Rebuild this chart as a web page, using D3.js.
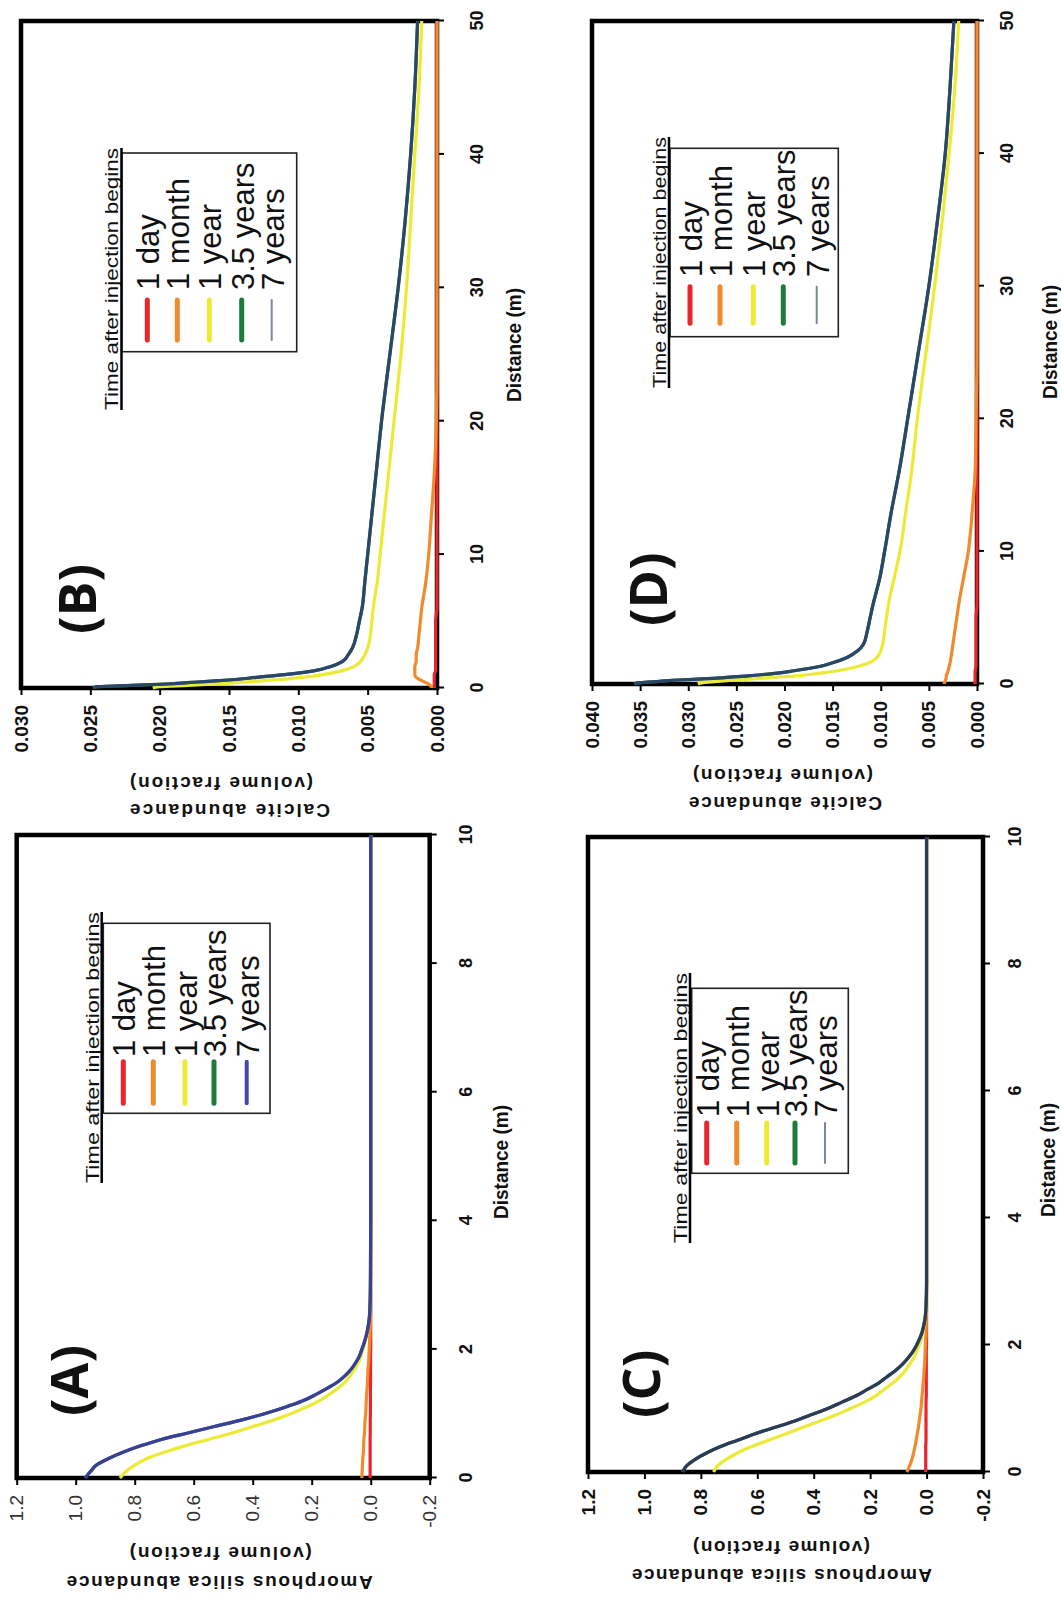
<!DOCTYPE html>
<html lang="en">
<head>
<meta charset="UTF-8">
<title>Amorphous silica and calcite abundance</title>
<style>
  body { margin: 0; background: #fff; }
  svg { display: block; }
  text { font-family: "Liberation Sans", Arial, sans-serif; fill: #111; }
  .frame { fill: none; stroke: #000; stroke-width: 4.5px; }
  .tick line { stroke: #000; stroke-width: 2px; }
  .series { fill: none; stroke-width: 3.2px; stroke-linejoin: round; }
</style>
</head>
<body>
<script src="https://d3js.org/d3.v7.min.js"></script>
<script>
// legend, same in every panel
const legendTitle = "Time after injection begins";
const legendLabels = ["1 day", "1 month", "1 year", "3.5 years", "7 years"];

// (A) amorphous silica, distance 0-10 m
const distA = [0, 0.1, 0.2, 0.3, 0.4, 0.5, 0.6, 0.7, 0.8, 0.9, 1.0, 1.1, 1.2, 1.3, 1.4, 1.5, 1.6, 1.7, 1.8, 1.9, 2.0, 2.2, 2.4, 2.6, 3.0, 4, 5, 6, 7, 8, 9, 10];
const aDay = [0.002, 0.002, 0.002, 0.002, 0.002, 0.002, 0.002, 0.0015, 0.0015, 0.0015, 0.001, 0.001, 0.001, 0.001, 0.001, 0.0005, 0.0005, 0.0005, 0.0005, 0.0005, 0, 0, 0, 0, 0, 0, 0, 0, 0, 0, 0, 0];
const aMonth = [0.030, 0.029, 0.028, 0.027, 0.025, 0.024, 0.023, 0.021, 0.020, 0.019, 0.017, 0.016, 0.015, 0.014, 0.012, 0.011, 0.010, 0.009, 0.007, 0.006, 0.005, 0.003, 0.001, 0, 0, 0, 0, 0, 0, 0, 0, 0];
const aYear = [0.85, 0.83, 0.80, 0.76, 0.70, 0.63, 0.55, 0.47, 0.40, 0.33, 0.27, 0.22, 0.175, 0.14, 0.11, 0.085, 0.068, 0.053, 0.042, 0.033, 0.026, 0.015, 0.007, 0.003, 0.001, 0, 0, 0, 0, 0, 0, 0];
const aYear35 = [0.968, 0.95, 0.93, 0.89, 0.84, 0.78, 0.71, 0.62, 0.53, 0.44, 0.36, 0.29, 0.23, 0.185, 0.145, 0.11, 0.085, 0.065, 0.05, 0.038, 0.03, 0.016, 0.007, 0.003, 0.001, 0, 0, 0, 0, 0, 0, 0];
const aYear7 = [0.968, 0.95, 0.93, 0.89, 0.84, 0.78, 0.71, 0.62, 0.53, 0.44, 0.36, 0.29, 0.23, 0.185, 0.145, 0.11, 0.085, 0.065, 0.05, 0.038, 0.03, 0.016, 0.007, 0.003, 0.001, 0, 0, 0, 0, 0, 0, 0];

// (C) amorphous silica, second case, distance 0-10 m
const distC = [0, 0.1, 0.2, 0.3, 0.4, 0.5, 0.6, 0.7, 0.8, 0.9, 1.0, 1.1, 1.2, 1.3, 1.4, 1.5, 1.6, 1.7, 1.8, 1.9, 2.0, 2.2, 2.4, 2.6, 3.0, 4, 5, 6, 7, 8, 9, 10];
const cDay = [0.003, 0.003, 0.003, 0.003, 0.003, 0.002, 0.002, 0.002, 0.002, 0.002, 0.002, 0.002, 0.001, 0.001, 0.001, 0.001, 0.001, 0.001, 0.001, 0.001, 0, 0, 0, 0, 0, 0, 0, 0, 0, 0, 0, 0];
const cMonth = [0.07, 0.06, 0.052, 0.046, 0.041, 0.037, 0.033, 0.029, 0.026, 0.023, 0.020, 0.018, 0.016, 0.014, 0.012, 0.010, 0.009, 0.007, 0.006, 0.005, 0.004, 0.002, 0.001, 0, 0, 0, 0, 0, 0, 0, 0, 0];
const cYear = [0.755, 0.74, 0.71, 0.67, 0.62, 0.56, 0.50, 0.44, 0.38, 0.32, 0.27, 0.22, 0.18, 0.15, 0.12, 0.095, 0.075, 0.06, 0.045, 0.035, 0.026, 0.013, 0.005, 0.001, 0, 0, 0, 0, 0, 0, 0, 0];
const cYear35 = [0.865, 0.85, 0.82, 0.78, 0.73, 0.67, 0.61, 0.54, 0.47, 0.41, 0.35, 0.30, 0.25, 0.21, 0.17, 0.14, 0.11, 0.085, 0.065, 0.048, 0.035, 0.016, 0.006, 0.002, 0, 0, 0, 0, 0, 0, 0, 0];
const cYear7 = [0.865, 0.85, 0.82, 0.78, 0.73, 0.67, 0.61, 0.54, 0.47, 0.41, 0.35, 0.30, 0.25, 0.21, 0.17, 0.14, 0.11, 0.085, 0.065, 0.048, 0.035, 0.016, 0.006, 0.002, 0, 0, 0, 0, 0, 0, 0, 0];

// (B) calcite, distance 0-50 m
const distB = [0, 0.1, 0.2, 0.3, 0.4, 0.5, 0.6, 0.8, 1.0, 1.3, 1.6, 2, 2.5, 3, 4, 5, 6, 8, 10, 13, 16, 20, 25, 30, 35, 40, 45, 50];
const bDay = [0.0002, 0.0002, 0.0002, 0.0002, 0.0002, 0.0002, 0.0002, 0.0002, 0.0002, 0.0001, 0.0001, 0.0001, 0.0001, 0.0001, 0.0001, 0.0001, 0, 0, 0, 0, 0, 0, 0, 0, 0, 0, 0, 0];
const bMonth = [0.0004, 0.0004, 0.0005, 0.0006, 0.0008, 0.0010, 0.0012, 0.0015, 0.0016, 0.0016, 0.0016, 0.0015, 0.0015, 0.0014, 0.0013, 0.0012, 0.0011, 0.0008, 0.0006, 0.0004, 0.0002, 0.00005, 0, 0, 0, 0, 0, 0];
const bYear = [0.0205, 0.0200, 0.0180, 0.0160, 0.0145, 0.0130, 0.0118, 0.0097, 0.0082, 0.0068, 0.0060, 0.0055, 0.0052, 0.0050, 0.0048, 0.0047, 0.0046, 0.0043, 0.0041, 0.0038, 0.0035, 0.0031, 0.0026, 0.0022, 0.0019, 0.0016, 0.0013, 0.0011];
const bYear35 = [0.0248, 0.0245, 0.0220, 0.0195, 0.0180, 0.0165, 0.0150, 0.0130, 0.0110, 0.0088, 0.0077, 0.0068, 0.0064, 0.0061, 0.0058, 0.0056, 0.0054, 0.0052, 0.0050, 0.0047, 0.0044, 0.0040, 0.0034, 0.0028, 0.0023, 0.0019, 0.0016, 0.0014];
const bYear7 = [0.0248, 0.0245, 0.0220, 0.0195, 0.0180, 0.0165, 0.0150, 0.0130, 0.0110, 0.0088, 0.0077, 0.0068, 0.0064, 0.0061, 0.0058, 0.0056, 0.0054, 0.0052, 0.0050, 0.0047, 0.0044, 0.0040, 0.0034, 0.0028, 0.0023, 0.0019, 0.0016, 0.0014];

// (D) calcite, second case, distance 0-50 m
const distD = [0, 0.1, 0.2, 0.3, 0.4, 0.5, 0.6, 0.8, 1.0, 1.3, 1.6, 2, 2.5, 3, 4, 5, 6, 8, 10, 13, 16, 20, 25, 30, 35, 40, 45, 50];
const dDay = [0.0002, 0.0002, 0.0002, 0.0002, 0.0002, 0.0002, 0.0002, 0.0002, 0.0002, 0.0001, 0.0001, 0.0001, 0.0001, 0.0001, 0.0001, 0.0001, 0, 0, 0, 0, 0, 0, 0, 0, 0, 0, 0, 0];
const dMonth = [0.0034, 0.0034, 0.0033, 0.0033, 0.0032, 0.0032, 0.0032, 0.0031, 0.0030, 0.0029, 0.0028, 0.0027, 0.0026, 0.0025, 0.0023, 0.0021, 0.0019, 0.0014, 0.0009, 0.0005, 0.0002, 0.0001, 0, 0, 0, 0, 0, 0];
const dYear = [0.0290, 0.0285, 0.0270, 0.0250, 0.0230, 0.0210, 0.0190, 0.0165, 0.0145, 0.0125, 0.0112, 0.0104, 0.0100, 0.0098, 0.0096, 0.0094, 0.0092, 0.0086, 0.0080, 0.0074, 0.0068, 0.0062, 0.0053, 0.0044, 0.0036, 0.0029, 0.0023, 0.0019];
const dYear35 = [0.0356, 0.0350, 0.0330, 0.0310, 0.0280, 0.0260, 0.0240, 0.0210, 0.0190, 0.0165, 0.0150, 0.0135, 0.0124, 0.0118, 0.0114, 0.0111, 0.0108, 0.0101, 0.0096, 0.0089, 0.0081, 0.0072, 0.0061, 0.0050, 0.0041, 0.0033, 0.0028, 0.0024];
const dYear7 = [0.0356, 0.0350, 0.0330, 0.0310, 0.0280, 0.0260, 0.0240, 0.0210, 0.0190, 0.0165, 0.0150, 0.0135, 0.0124, 0.0118, 0.0114, 0.0111, 0.0108, 0.0101, 0.0096, 0.0089, 0.0081, 0.0072, 0.0061, 0.0050, 0.0041, 0.0033, 0.0028, 0.0024];

// axis ticks
const silicaTicks = [-0.2, 0, 0.2, 0.4, 0.6, 0.8, 1.0, 1.2];
const calciteTicksB = [0, 0.005, 0.010, 0.015, 0.020, 0.025, 0.030];
const calciteTicksD = [0, 0.005, 0.010, 0.015, 0.020, 0.025, 0.030, 0.035, 0.040];
const distTicks10 = [0, 2, 4, 6, 8, 10];
const distTicks50 = [0, 10, 20, 30, 40, 50];

const lineColors = ["#e8262b", "#f08a2c", "#ecea34", "#1f7b3c"];

// every panel is drawn the usual way (distance across, abundance up)
// and then turned a quarter turn counter-clockwise, like the scanned page.
// u = along the distance axis, v = down from the top of the plot.
const panels = [
  {
    label: "(A)", px: 16.7, py: 1478, W: 643, H: 413,
    dist: distA, series: [aDay, aMonth, aYear, aYear35, aYear7], dMax: 10, vDom: [-0.2, 1.2],
    vTicks: silicaTicks, fmt: ".1f", dTicks: distTicks10, tickBold: false,
    blue: "#3b3f99", blueLeg: { color: "#474b9f", w: 4 },
    lab: { u: 62, v: 71 },
    dTickPad: 23, dLab: { u: 316, v: 484 },
    yLab: [{ t: "Amorphous silica abundance", u: -104, v: 356, len: 306 },
           { t: "(volume fraction)", u: -75, v: 295, len: 182 }],
    leg: { box: [364.7, 554.7, 86.6, 253.3], title: { u: 295, v: 82, len: 271, ul: 85 },
           rows: [106.6, 136.6, 168.3, 197.3, 230], line: [374.7, 416.3], textU: 421 }
  },
  {
    label: "(B)", px: 21, py: 688, W: 667, H: 416,
    dist: distB, series: [bDay, bMonth, bYear, bYear35, bYear7], dMax: 50, vDom: [0, 0.03],
    vTicks: calciteTicksB, fmt: ".3f", dTicks: distTicks50, tickBold: true,
    blue: "#2b4668", blueLeg: { color: "#7a86a6", w: 2 },
    lab: { u: 54, v: 75 },
    dTickPad: 26, dLab: { u: 343, v: 493 },
    yLab: [{ t: "Calcite abundance", u: -122, v: 309, len: 200 },
           { t: "(volume fraction)", u: -95, v: 292, len: 183 }],
    leg: { box: [336.3, 535, 100.7, 275.7], title: { u: 278, v: 97, len: 262, ul: 100.5 },
           rows: [126.3, 156.3, 188.3, 220.7, 250.7], line: [348, 388], textU: 398 }
  },
  {
    label: "(C)", px: 588, py: 1472, W: 635, H: 395,
    dist: distC, series: [cDay, cMonth, cYear, cYear35, cYear7], dMax: 10, vDom: [-0.2, 1.2],
    vTicks: silicaTicks, fmt: ".1f", dTicks: distTicks10, tickBold: true,
    blue: "#2e3a58", blueLeg: { color: "#7a86a6", w: 2 },
    lab: { u: 54, v: 72 },
    dTickPad: 18, dLab: { u: 312, v: 460 },
    yLab: [{ t: "Amorphous silica abundance", u: -103, v: 344, len: 300 },
           { t: "(volume fraction)", u: -75, v: 282, len: 177 }],
    leg: { box: [298.7, 483.7, 103.7, 260.3], title: { u: 229, v: 99, len: 270, ul: 102 },
           rows: [118.7, 148.7, 178.7, 207, 237], line: [309, 349], textU: 355 }
  },
  {
    label: "(D)", px: 592, py: 684, W: 663, H: 385,
    dist: distD, series: [dDay, dMonth, dYear, dYear35, dYear7], dMax: 50, vDom: [0, 0.04],
    vTicks: calciteTicksD, fmt: ".3f", dTicks: distTicks50, tickBold: true,
    blue: "#2b4668", blueLeg: { color: "#7a86a6", w: 2 },
    lab: { u: 58, v: 75 },
    dTickPad: 16, dLab: { u: 342, v: 458 },
    yLab: [{ t: "Calcite abundance", u: -119, v: 290, len: 193 },
           { t: "(volume fraction)", u: -91, v: 281, len: 180 }],
    leg: { box: [347.3, 535.7, 78, 246.3], title: { u: 296, v: 74, len: 251, ul: 77 },
           rows: [98, 128, 161.3, 191.3, 224.7], line: [360.7, 397.3], textU: 407 }
  }
];

const svg = d3.select("body").append("svg")
  .attr("width", 1061)
  .attr("height", 1599);

svg.append("rect").attr("width", 1061).attr("height", 1599).attr("fill", "#fff");

panels.forEach(drawPanel);

function drawPanel(p) {
  const g = svg.append("g")
    .attr("transform", `translate(${p.px},${p.py}) rotate(-90)`);

  const x = d3.scaleLinear().domain([0, p.dMax]).range([0, p.W]);
  const y = d3.scaleLinear().domain(p.vDom).range([p.H, 0]);
  const vFormat = d3.format(p.fmt);

  // axes (domain lines hidden, the frame takes their place)
  const xAxis = g.append("g")
    .attr("transform", `translate(0,${p.H})`)
    .call(d3.axisBottom(x).tickValues(p.dTicks).tickSize(7).tickPadding(p.dTickPad).tickFormat(d3.format("d")));
  xAxis.select(".domain").remove();
  xAxis.selectAll("text")
    .style("font-size", "18px").style("font-weight", "bold")
    .style("font-family", "'Liberation Sans Narrow', 'Liberation Sans', sans-serif");

  const yAxis = g.append("g")
    .call(d3.axisLeft(y).tickValues(p.vTicks).tickSize(7).tickPadding(10)
      .tickFormat(d => vFormat(d).replace("\u2212", "-")));
  yAxis.select(".domain").remove();
  yAxis.selectAll("text")
    .style("font-size", "19px")
    .style("font-weight", p.tickBold ? "bold" : "normal")
    .style("fill", p.tickBold ? "#111" : "#333");

  g.append("rect").attr("class", "frame")
    .attr("width", p.W).attr("height", p.H);

  const line = d3.line()
    .x((d, i) => x(p.dist[i]))
    .y(d => y(d))
    .curve(d3.curveMonotoneX);

  const colors = lineColors.concat([p.blue]);
  p.series.forEach((vals, k) => {
    g.append("path")
      .attr("class", "series")
      .attr("stroke", colors[k])
      .attr("d", line(vals));
  });

  // panel letter
  g.append("text")
    .attr("x", p.lab.u).attr("y", p.lab.v)
    .style("font-family", "'Open Sans', 'DejaVu Sans', sans-serif")
    .style("font-weight", "bold")
    .style("font-size", "52px")
    .text(p.label);

  // distance label
  g.append("text")
    .attr("x", p.dLab.u).attr("y", p.dLab.v)
    .attr("text-anchor", "middle")
    .attr("dominant-baseline", "central")
    .attr("textLength", 114).attr("lengthAdjust", "spacingAndGlyphs")
    .style("font-size", "20px").style("font-weight", "bold")
    .text("Distance (m)");

  // abundance label, two lines
  p.yLab.forEach(l => {
    g.append("text")
      .attr("transform", `translate(${l.u},${l.v}) rotate(-90)`)
      .attr("dominant-baseline", "central")
      .attr("textLength", l.len).attr("lengthAdjust", "spacing")
      .style("font-size", "19px").style("font-weight", "bold")
      .text(l.t);
  });

  // legend
  const L = p.leg;
  g.append("rect")
    .attr("x", L.box[0]).attr("y", L.box[2])
    .attr("width", L.box[1] - L.box[0]).attr("height", L.box[3] - L.box[2])
    .attr("fill", "#fff").attr("stroke", "#222").attr("stroke-width", 1.6);

  g.append("text")
    .attr("x", L.title.u).attr("y", L.title.v)
    .attr("textLength", L.title.len).attr("lengthAdjust", "spacingAndGlyphs")
    .style("font-size", "19px")
    .text(legendTitle);
  g.append("line")
    .attr("x1", L.title.u).attr("x2", L.title.u + L.title.len)
    .attr("y1", L.title.ul).attr("y2", L.title.ul)
    .attr("stroke", "#000").attr("stroke-width", 2.5);

  legendLabels.forEach((name, k) => {
    const last = k === legendLabels.length - 1;
    g.append("line")
      .attr("x1", L.line[0]).attr("x2", L.line[1])
      .attr("y1", L.rows[k]).attr("y2", L.rows[k])
      .attr("stroke", last ? p.blueLeg.color : lineColors[k])
      .attr("stroke-width", last ? p.blueLeg.w : 5)
      .attr("stroke-linecap", "round");
    g.append("text")
      .attr("x", L.textU).attr("y", L.rows[k] + 12)
      .style("font-size", "31px")
      .text(name);
  });
}
</script>
</body>
</html>
